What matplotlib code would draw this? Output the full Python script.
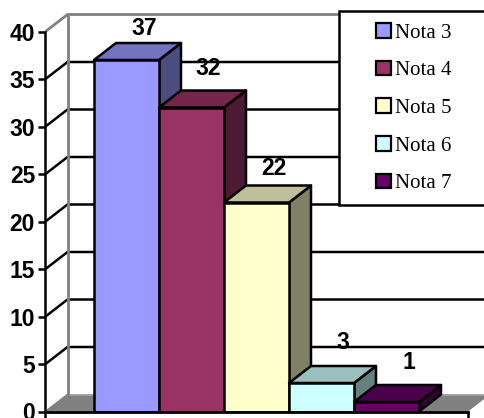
import matplotlib
matplotlib.use("Agg")
import matplotlib.pyplot as plt
from matplotlib.patches import Polygon, Rectangle

categories = ["Nota 3", "Nota 4", "Nota 5", "Nota 6", "Nota 7"]
values = [37, 32, 22, 3, 1]
yticks = [0, 5, 10, 15, 20, 25, 30, 35, 40]

colors = ["#9999FF", "#993366", "#FFFFCC", "#CCFFFF", "#660066"]
tops = ["#7373BF", "#732649", "#BFBF99", "#99BFBF", "#4C004C"]
sides = ["#4C4C80", "#4D1A33", "#808066", "#668080", "#330033"]
label_lift = [1.55, 2.35, 1.75, 2.5, 2.4]
label_shift = [0.10, 0.085, 0.10, 0.16, 0.18]

W, H = 485, 418
fig = plt.figure(figsize=(W / 100, H / 100), dpi=100)
ax = fig.add_axes([45.5 / W, 6.5 / H, 1 - 45.5 / W, 1 - 6.5 / H])

# one bar is 65 px wide, one value unit is 9.5 px high
x0 = -48.5 / 65
ax.set_xlim(x0, x0 + (W - 45.5) / 65)
ax.set_ylim(0, 411.5 / 9.5)
dx = 22 / 65
dy = 17 / 9.5
xend = x0 + 422.5 / 65
xfar = x0 + (W - 45.5) / 65

lw = 1.8
gray = "#808080"

# floor
ax.add_patch(Polygon([(x0, 0), (x0 + dx, dy), (xfar + dx, dy), (xend + dx, dy), (xend, 0)],
                     fc=gray, ec="none", zorder=1))
ax.plot([x0 + dx, xfar], [dy, dy], color="#A6A6A6", lw=1.2, zorder=1.5)

# gridlines along the side and back walls
for t in yticks[1:-1]:
    ax.plot([x0, x0 + dx, xfar], [t, t + dy, t + dy], color="black", lw=lw, zorder=2)

# wall outline
ax.plot([x0, x0 + dx], [0, dy], color=gray, lw=1.2, zorder=2)
ax.plot([x0, x0 + dx, xfar], [40, 40 + dy, 40 + dy], color=gray, lw=2, zorder=2)
ax.plot([x0 + dx, x0 + dx], [dy, 40 + dy], color=gray, lw=2, zorder=2)

# bars, left to right so each one covers the side of the previous
for i, v in enumerate(values):
    z = 3 + i
    ax.add_patch(Polygon([(i + 1, 0), (i + 1 + dx, dy), (i + 1 + dx, v + dy), (i + 1, v)],
                         fc=sides[i], ec="black", lw=lw, joinstyle="round", zorder=z))
    ax.add_patch(Polygon([(i, v), (i + dx, v + dy), (i + 1 + dx, v + dy), (i + 1, v)],
                         fc=tops[i], ec="black", lw=lw, joinstyle="round", zorder=z))
    ax.add_patch(Rectangle((i, 0), 1, v, fc=colors[i], ec="black", lw=lw, zorder=z))
    ax.text(i + 0.5 + dx / 2 + label_shift[i], v + dy + label_lift[i], str(v),
            ha="center", va="center", fontsize=16.5, fontweight="bold",
            family="Liberation Sans", zorder=10)

# axes
for s in ["top", "right"]:
    ax.spines[s].set_visible(False)
ax.spines["left"].set_bounds(0, 40)
ax.spines["bottom"].set_bounds(x0, xend)
ax.spines["left"].set_linewidth(lw)
ax.spines["bottom"].set_linewidth(2)
ax.spines["left"].set_zorder(9)
ax.spines["bottom"].set_zorder(9)
ax.set_yticks(yticks)
ax.set_xticks([x0, xend])
ax.set_xticklabels([])
ax.tick_params(axis="y", length=5, width=lw, pad=2.5)
ax.tick_params(axis="x", length=5, width=lw)
for lab in ax.get_yticklabels():
    lab.set_family("Liberation Sans")
    lab.set_fontweight("bold")
    lab.set_fontsize(16.5)

# legend box runs off the right edge
box = Rectangle((339 / W, 1 - 205 / H), 160 / W, 194 / H, transform=fig.transFigure,
                fc="white", ec="black", lw=lw, zorder=20)
ax.add_patch(box)
box.set_clip_on(False)

handles = [Rectangle((0, 0), 1, 1, fc=c, ec="black", lw=1.6) for c in colors]
leg = ax.legend(handles, categories, loc="upper left",
                bbox_to_anchor=(376 / W, 1 - 23 / H), bbox_transform=fig.transFigure,
                prop={"family": "Liberation Serif", "size": 15},
                frameon=False, handlelength=0.7, handleheight=0.7,
                handletextpad=0.2, labelspacing=0.87, borderpad=0, borderaxespad=0)
leg.set_zorder(21)

plt.savefig("out.png", dpi=100)
plt.close("all")
